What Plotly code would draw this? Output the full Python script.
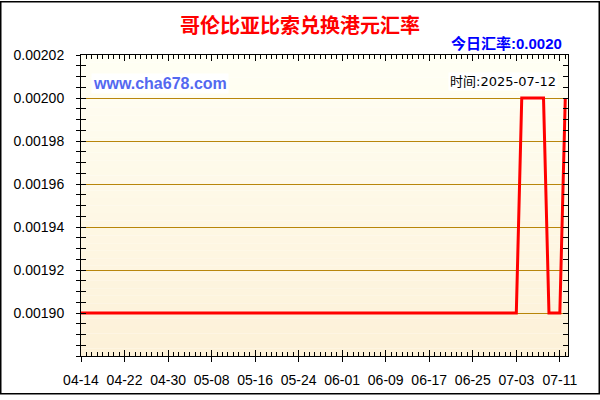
import plotly.graph_objects as go
import pandas as pd

# ---- data ----
start_date = "2025-04-14"
rates = [
    0.0019, 0.0019, 0.0019, 0.0019, 0.0019, 0.0019, 0.0019, 0.0019, 0.0019, 0.0019,
    0.0019, 0.0019, 0.0019, 0.0019, 0.0019, 0.0019, 0.0019, 0.0019, 0.0019, 0.0019,
    0.0019, 0.0019, 0.0019, 0.0019, 0.0019, 0.0019, 0.0019, 0.0019, 0.0019, 0.0019,
    0.0019, 0.0019, 0.0019, 0.0019, 0.0019, 0.0019, 0.0019, 0.0019, 0.0019, 0.0019,
    0.0019, 0.0019, 0.0019, 0.0019, 0.0019, 0.0019, 0.0019, 0.0019, 0.0019, 0.0019,
    0.0019, 0.0019, 0.0019, 0.0019, 0.0019, 0.0019, 0.0019, 0.0019, 0.0019, 0.0019,
    0.0019, 0.0019, 0.0019, 0.0019, 0.0019, 0.0019, 0.0019, 0.0019, 0.0019, 0.0019,
    0.0019, 0.0019, 0.0019, 0.0019, 0.0019, 0.0019, 0.0019, 0.0019, 0.0019, 0.0019,
    0.0019, 0.0020, 0.0020, 0.0020, 0.0020, 0.0020, 0.0019, 0.0019, 0.0019, 0.0020,
]
dates = pd.date_range(start_date, periods=len(rates), freq="D")
y_tickvals = [0.00190, 0.00192, 0.00194, 0.00196, 0.00198, 0.00200, 0.00202]
y_ticktext = ["0.00190", "0.00192", "0.00194", "0.00196", "0.00198", "0.00200", "0.00202"]
title_text = "哥伦比亚比索兑换港元汇率"
today_text = "今日汇率:0.0020"
time_text = "时间:2025-07-12"
site_text = "www.cha678.com"

# ---- layout geometry ----
W, H = 600, 400
L, R, T, B = 81, 32, 55, 39
PW, PH = W - L - R, H - T - B


def px(x):
    return (x - L) / PW


def py(y):
    return 1 - (y - T) / PH


DAY = 86400000
x_range = ["2025-04-14", "2025-07-12 12:00"]
y_range = [0.00188, 0.00202]

fig = go.Figure()
fig.add_trace(go.Scatter(
    x=dates, y=rates, mode="lines",
    line=dict(color="#ff0000", width=3),
    hoverinfo="skip", showlegend=False,
))
fig.add_trace(go.Scatter(
    x=dates, y=rates, mode="lines", xaxis="x2", yaxis="y2",
    line=dict(color="rgba(0,0,0,0)", width=0),
    hoverinfo="skip", showlegend=False,
))

tickfont = dict(family="Liberation Sans, Arial, sans-serif", size=14, color="#000000")

# gradient background strips
n = 40
top = (255, 255, 244)
bot = (253, 241, 216)
shapes = []
for i in range(n):
    t = i / (n - 1)
    c = tuple(round(top[k] + (bot[k] - top[k]) * t) for k in range(3))
    shapes.append(dict(
        type="rect", xref="paper", yref="paper", layer="below",
        x0=0, x1=1, y0=1 - (i + 1) / n, y1=1 - i / n,
        fillcolor="rgb(%d,%d,%d)" % c, line=dict(width=0),
    ))
# outer border
shapes.append(dict(
    type="rect", xref="paper", yref="paper", layer="above",
    x0=px(0.75), x1=px(599.25), y0=py(399.25), y1=py(0.75),
    line=dict(color="#000000", width=1.5), fillcolor="rgba(0,0,0,0)",
))

fig.update_layout(
    width=W, height=H,
    margin=dict(l=L, r=R, t=T, b=B, pad=0),
    paper_bgcolor="#ffffff",
    plot_bgcolor="rgba(0,0,0,0)",
    shapes=shapes,
    xaxis=dict(
        type="date", range=x_range, tick0="2025-04-14", dtick=8 * DAY,
        tickformat="%m-%d", ticks="outside", ticklen=5, tickwidth=1, tickcolor="#000",
        showline=True, linecolor="#000", linewidth=1, mirror=True,
        showgrid=False, zeroline=False, tickfont=tickfont, ticklabelstandoff=6,
    ),
    xaxis2=dict(
        type="date", range=x_range, overlaying="x", tick0="2025-04-14", dtick=8 * DAY,
        ticks="inside", ticklen=6, tickwidth=1, tickcolor="#000", mirror="ticks",
        showline=True, linecolor="#000",
        minor=dict(dtick=DAY, tick0="2025-04-14", ticks="inside", ticklen=4, tickcolor="#000"),
        showticklabels=False, showgrid=False, zeroline=False,
    ),
    yaxis=dict(
        range=y_range, tickmode="array", tickvals=y_tickvals, ticktext=y_ticktext,
        ticks="outside", ticklen=4, tickwidth=1, tickcolor="#000",
        minor=dict(tickmode="linear", tick0=0.00188, dtick=0.000005, ticks="outside",
                   ticklen=4, tickcolor="#000"),
        showline=True, linecolor="#000", linewidth=1, mirror=True,
        showgrid=True, gridcolor="#b8860b", gridwidth=1, zeroline=False,
        tickfont=tickfont, ticklabelstandoff=9,
    ),
    yaxis2=dict(
        range=y_range, overlaying="y", tickmode="array", tickvals=y_tickvals,
        ticks="inside", ticklen=5, tickwidth=1, tickcolor="#000", mirror="ticks",
        minor=dict(tickmode="linear", tick0=0.00188, dtick=0.000005, ticks="inside",
                   ticklen=5, tickcolor="#000"),
        showline=True, linecolor="#000",
        showticklabels=False, showgrid=False, zeroline=False,
    ),
    annotations=[
        dict(text="<b>%s</b>" % title_text, xref="paper", yref="paper",
             x=px(300), y=py(24), xanchor="center", yanchor="middle", showarrow=False,
             font=dict(family="Noto Sans CJK SC, sans-serif", size=20, color="#ff0000")),
        dict(text="<b>%s</b>" % today_text, xref="paper", yref="paper",
             x=px(564), y=py(43), xanchor="right", yanchor="middle", showarrow=False,
             font=dict(family="Liberation Sans, Noto Sans CJK SC, sans-serif", size=15,
                       color="#0000ff")),
        dict(text=time_text, xref="paper", yref="paper",
             x=px(558), y=py(82), xanchor="right", yanchor="middle", showarrow=False,
             bgcolor="#ffffff", borderpad=1,
             font=dict(family="DejaVu Sans, Noto Sans CJK SC, sans-serif", size=13,
                       color="#000000")),
        dict(text="<b>%s</b>" % site_text, xref="paper", yref="paper",
             x=px(91), y=py(84), xanchor="left", yanchor="middle", showarrow=False,
             bgcolor="#ffffff", borderpad=1,
             font=dict(family="Liberation Sans, Arial, sans-serif", size=16,
                       color="#5468f0")),
    ],
)

fig.write_html(
    "out.html",
    config={"displayModeBar": False, "staticPlot": True},
    post_script="document.body.style.margin='0px';document.body.style.overflow='hidden';",
)
